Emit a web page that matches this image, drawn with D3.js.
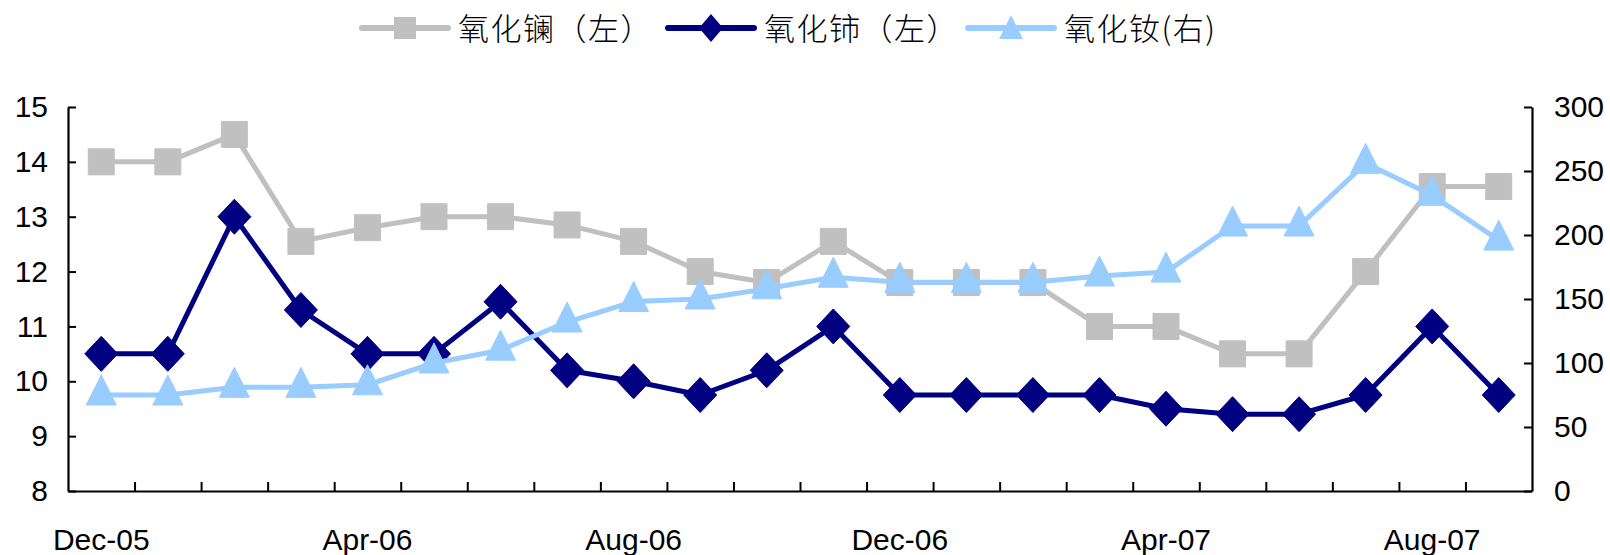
<!DOCTYPE html>
<html>
<head>
<meta charset="utf-8">
<script src="https://cdn.jsdelivr.net/npm/d3@7"></script>
<style>
  html, body { margin: 0; padding: 0; background: #fff; }
  svg { display: block; }
</style>
</head>
<body>
<svg id="chart" width="1610" height="555"></svg>
<script>
// Monthly categories, Dec 2005 – Sep 2007
const months = ["Dec-05","Jan-06","Feb-06","Mar-06","Apr-06","May-06","Jun-06","Jul-06",
                "Aug-06","Sep-06","Oct-06","Nov-06","Dec-06","Jan-07","Feb-07","Mar-07",
                "Apr-07","May-07","Jun-07","Jul-07","Aug-07","Sep-07"];
const tickMonths = ["Dec-05","Apr-06","Aug-06","Dec-06","Apr-07","Aug-07"];
const leftTicks = [8, 9, 10, 11, 12, 13, 14, 15];
const rightTicks = [0, 50, 100, 150, 200, 250, 300];

// Lanthanum oxide (left axis)
const lanthanum = [14.0, 14.0, 14.5, 12.55, 12.8, 13.0, 13.0, 12.85, 12.55, 12.0, 11.8, 12.55,
                   11.8, 11.8, 11.8, 11.0, 11.0, 10.5, 10.5, 12.0, 13.55, 13.55];
// Cerium oxide (left axis)
const cerium = [10.5, 10.5, 13.0, 11.3, 10.5, 10.5, 11.45, 10.2, 10.0, 9.75, 10.2, 11.0,
                9.75, 9.75, 9.75, 9.75, 9.5, 9.4, 9.4, 9.75, 11.0, 9.75];
// Neodymium oxide (right axis)
const neodymium = [75, 75, 81, 81, 83, 100, 110, 132, 148, 150, 158, 167,
                   163, 163, 163, 168, 171, 207, 207, 256, 231, 196];

const seriesNames = ["氧化镧（左）", "氧化铈（左）", "氧化钕(右)"];

const svg = d3.select("#chart");
const plot = { left: 68, right: 1532, top: 107, bottom: 491 };
const numFont = "'Liberation Sans', Arial, Helvetica, sans-serif";
const cjkFont = "'Noto Sans CJK SC', 'Noto Sans', sans-serif";

const x = d3.scaleBand().domain(months).range([plot.left, plot.right]).padding(0);
const xEdge = d3.scaleLinear().domain([0, months.length]).range([plot.left, plot.right]);
const yL = d3.scaleLinear().domain([8, 15]).range([plot.bottom, plot.top]);
const yR = d3.scaleLinear().domain([0, 300]).range([plot.bottom, plot.top]);
const cx = m => x(m) + x.bandwidth() / 2;

function styleAxis(g) {
  g.selectAll(".domain").attr("stroke", "#000").attr("stroke-width", 2.2);
  g.selectAll(".tick line").attr("stroke", "#000").attr("stroke-width", 2);
  g.selectAll("text").attr("font-family", numFont).attr("font-size", 30).attr("fill", "#000");
}

// category axis: tick marks between months, pointing into the plot
const gXTicks = svg.append("g")
  .attr("transform", `translate(0,${plot.bottom})`)
  .call(d3.axisBottom(xEdge).tickValues(d3.range(1, months.length))
        .tickSizeInner(-9).tickSizeOuter(0).tickFormat(""));
styleAxis(gXTicks);

// category labels every fourth month
const gXLabels = svg.append("g")
  .attr("transform", `translate(0,${plot.bottom})`)
  .call(d3.axisBottom(x).tickValues(tickMonths).tickSize(0).tickPadding(38));
gXLabels.select(".domain").remove();
styleAxis(gXLabels);

// left value axis
const gL = svg.append("g")
  .attr("transform", `translate(${plot.left},0)`)
  .call(d3.axisLeft(yL).tickValues(leftTicks).tickFormat(d3.format("d"))
        .tickSizeInner(-8).tickSizeOuter(0).tickPadding(20));
styleAxis(gL);

// right value axis
const gR = svg.append("g")
  .attr("transform", `translate(${plot.right},0)`)
  .call(d3.axisRight(yR).tickValues(rightTicks).tickFormat(d3.format("d"))
        .tickSizeInner(-8).tickSizeOuter(0).tickPadding(22));
styleAxis(gR);

// marker shapes
const squarePath = s => `M${-s/2},${-s/2}h${s}v${s}h${-s}Z`;
const diamondPath = (w, h) => `M0,${-h/2}L${w/2},0L0,${h/2}L${-w/2},0Z`;
const trianglePath = (w, h) => `M0,${-h*2/3}L${w/2},${h/3}L${-w/2},${h/3}Z`;

const series = [
  { name: seriesNames[0], values: lanthanum, y: yL, color: "#C0C0C0",
    marker: squarePath(26), legendMarker: squarePath(22) },
  { name: seriesNames[1], values: cerium, y: yL, color: "#000080",
    marker: diamondPath(33, 35), legendMarker: diamondPath(24, 28) },
  { name: seriesNames[2], values: neodymium, y: yR, color: "#99CCFF",
    marker: trianglePath(30, 30), legendMarker: trianglePath(24, 24) }
];

series.forEach(s => {
  const pts = months.map((m, i) => [cx(m), s.y(s.values[i])]);
  const g = svg.append("g");
  g.append("path")
    .attr("d", d3.line()(pts))
    .attr("fill", "none")
    .attr("stroke", s.color)
    .attr("stroke-width", 5)
    .attr("stroke-linejoin", "round");
  g.selectAll("path.mk").data(pts).join("path")
    .attr("class", "mk")
    .attr("d", s.marker)
    .attr("transform", d => `translate(${d[0]},${d[1]})`)
    .attr("fill", s.color)
    .attr("stroke", s.color)
    .attr("stroke-width", 1)
    .attr("stroke-linejoin", "round");
});

// legend across the top
const legendX = [362, 668, 968];
const legendY = 28;
series.forEach((s, i) => {
  const g = svg.append("g").attr("transform", `translate(${legendX[i]},${legendY})`);
  g.append("line")
    .attr("x1", 0).attr("x2", 86).attr("y1", 0).attr("y2", 0)
    .attr("stroke", s.color).attr("stroke-width", 6).attr("stroke-linecap", "round");
  g.append("path")
    .attr("d", s.legendMarker)
    .attr("transform", `translate(43,${i === 2 ? 3 : 0})`)
    .attr("fill", s.color);
  g.append("text")
    .attr("x", 96).attr("y", 12)
    .attr("font-family", cjkFont)
    .attr("font-size", 31)
    .attr("font-weight", 300)
    .attr("letter-spacing", 1.5)
    .attr("fill", "#000")
    .text(s.name);
});
</script>
</body>
</html>
